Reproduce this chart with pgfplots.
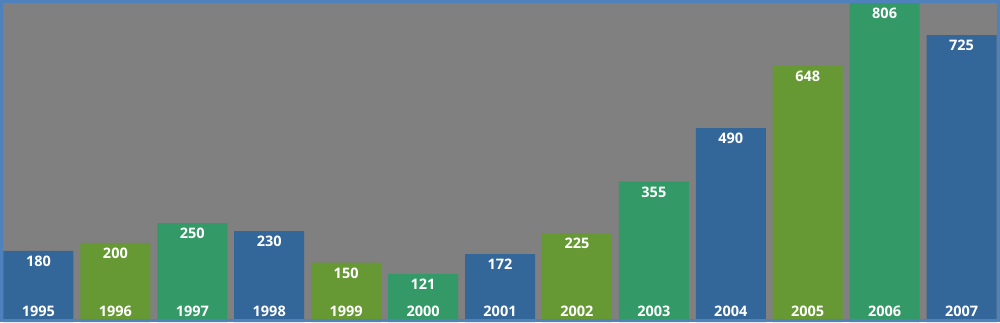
\documentclass[border=0pt]{standalone}
\usepackage{pgfplots}
\pgfplotsset{compat=1.18}
\usepackage{fontspec}
\setmainfont{Open Sans}
\definecolor{cblue}{HTML}{336699}
\definecolor{colive}{HTML}{669933}
\definecolor{cgreen}{HTML}{339966}
\definecolor{cbg}{HTML}{808080}
\definecolor{cborder}{HTML}{4F81BD}
\begin{document}
\begin{tikzpicture}
\begin{axis}[
  scale only axis,
  width=1000bp, height=322bp,
  xmin=-0.5, xmax=12.5, ymin=0, ymax=813.6,
  axis line style={draw=none},
  axis background/.style={fill=cbg},
  axis on top=true,
  /pgf/number format/assume math mode=true,
  ybar, bar width=0.91, bar shift=0pt,
  ytick=\empty,
  xtick={0,...,12},
  xticklabels={1995,1996,1997,1998,1999,2000,2001,2002,2003,2004,2005,2006,2007},
  major tick length=0pt,
  xticklabel style={anchor=base, inner sep=0pt, yshift=6bp, text=white, font=\fontsize{14.5bp}{16bp}\selectfont\bfseries},
  nodes near coords={\pgfmathprintnumber[assume math mode=true]{\pgfplotspointmeta}},
  every node near coord/.append style={anchor=north, inner sep=0pt, yshift=-5bp, text=white, font=\fontsize{14.5bp}{16bp}\selectfont\bfseries},
  clip=false,
]
\addplot[fill=cblue, draw=none] coordinates {(0,180) (3,230) (6,172) (9,490) (12,725)};
\addplot[fill=colive, draw=none] coordinates {(1,200) (4,150) (7,225) (10,648)};
\addplot[fill=cgreen, draw=none] coordinates {(2,250) (5,121) (8,355) (11,806)};
\end{axis}
\draw[cborder, line width=3bp] ([shift={(1.5bp,1.5bp)}]current axis.south west) rectangle ([shift={(-1.5bp,-1.5bp)}]current axis.north east);
\end{tikzpicture}
\end{document}
